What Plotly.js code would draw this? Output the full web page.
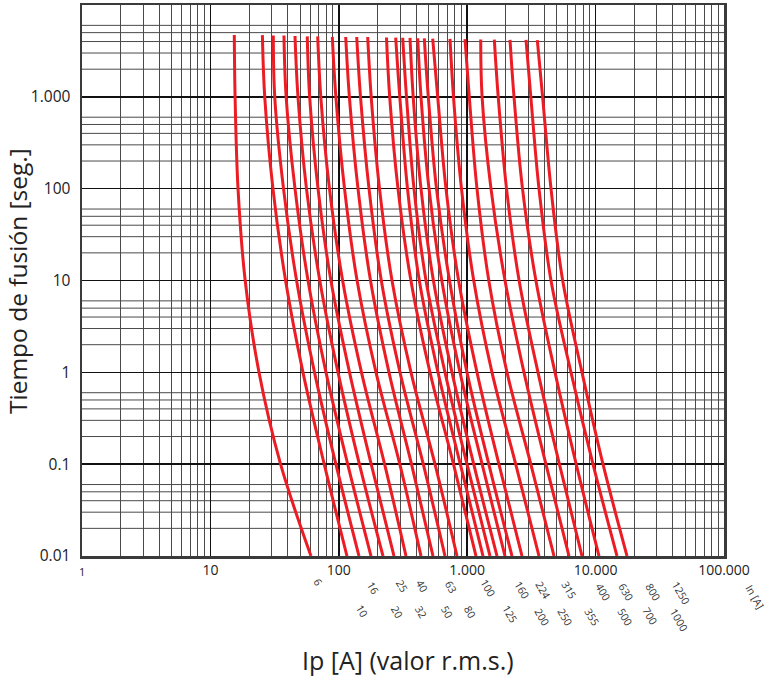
<!DOCTYPE html>
<html><head><meta charset="utf-8">
<script src="https://cdn.plot.ly/plotly-3.0.1.min.js"></script>
<style>html,body{margin:0;padding:0;background:#fff}#chart{width:766px;height:679px}</style>
</head><body><div id="chart"></div>
<script>
// Fuse ratings (In, A), left to right
const ratings = ['6','10','16','20','25','32','40','50','63','80','100','125','160','200','224','250','315','355','400','500','630','700','800','1000','1250'];
// Melting time of the first point of each curve (s)
const tTop = [4700,4700,4650,4650,4600,4550,4550,4500,4480,4480,4480,4420,4420,4400,4380,4350,4330,4300,4270,4250,4220,4200,4180,4160,4150];
// Melting times of the remaining points (s)
const times = [1000, 100, 10, 1, 0.1, 0.01];
// Prospective current Ip (A) for each curve: [at tTop, then at each of `times`]
const I_6    = [15.35, 15.57, 16.41, 18.66, 23.9, 35.2, 60.7];
const I_10   = [25.4, 26.5, 30.7, 38.5, 52.6, 77.0, 115.8];
const I_16   = [30.9, 31.7, 37.1, 46.9, 64.7, 94.9, 143.6];
const I_20   = [37.4, 38.9, 45.6, 57.6, 79.5, 117.3, 178.1];
const I_25   = [45.6, 48.1, 56.0, 71.1, 98.6, 144.7, 220.9];
const I_32   = [56.8, 59.3, 68.9, 86.8, 121.2, 178.8, 269.1];
const I_40   = [68.5, 72.4, 84.6, 107.1, 150.2, 227.3, 333.7];
const I_50   = [89.0, 94.9, 110.8, 138.8, 194.9, 298.6, 436.7];
const I_63   = [113.2, 120.9, 141.1, 176.6, 246.0, 368.3, 541.6];
const I_80   = [137.9, 147.6, 171.9, 214.3, 299.7, 455.1, 671.6];
const I_100  = [167.9, 178.8, 207.5, 259.6, 365.0, 561.3, 832.9];
const I_125  = [235.2, 249.1, 289.1, 364.4, 513.2, 782.2, 1171];
const I_160  = [277.4, 298.6, 342.8, 423.6, 592.4, 883.5, 1328];
const I_200  = [314.6, 336.7, 385.2, 477.7, 671.6, 996.5, 1505];
const I_224  = [358.5, 379.7, 436.7, 545.5, 761.4, 1124, 1707];
const I_250  = [411.6, 436.7, 504.1, 634.2, 878.9, 1306, 1970];
const I_315  = [463.3, 497.8, 576.6, 728.0, 996.5, 1473, 2233];
const I_355  = [538.7, 589.2, 683.8, 857.1, 1192, 1766, 2672];
const I_400  = [734.6, 782.2, 902.7, 1124, 1560, 2386, 3624];
const I_500  = [961.3, 1038, 1192, 1473, 2042, 3129, 4743];
const I_630  = [1274, 1306, 1532, 1970, 2769, 4102, 6207];
const I_700  = [1626, 1744, 2024, 2537, 3559, 5225, 7836];
const I_800  = [2155, 2315, 2696, 3428, 4828, 7061, 10628];
const I_1000 = [2871, 3129, 3624, 4494, 6433, 9545, 14677];
const I_1250 = [3515, 3866, 4494, 5543, 7836, 11419, 17562];
const currents = [I_6,I_10,I_16,I_20,I_25,I_32,I_40,I_50,I_63,I_80,I_100,I_125,I_160,I_200,I_224,I_250,I_315,I_355,I_400,I_500,I_630,I_700,I_800,I_1000,I_1250];

// Axis tick labels
const xTickVals = [10, 100, 1000, 10000, 100000];
const xTickText = ['10', '100', '1.000', '10.000', '100.000'];
const yTickVals = [0.01, 0.1, 1, 10, 100, 1000];
const yTickText = ['0.01', '0.1', '1', '10', '100', '1.000'];
// Horizontal minor gridline values (2..6 in every decade)
const yMinorVals = [];
[0.01, 0.1, 1, 10, 100, 1000].forEach(d => [2,3,4,5,6].forEach(m => yMinorVals.push(d*m)));

// Layout: rating label positions (pixel coords in the 766x679 page)
const labelPix = {
  '6':[318,582],'16':[373,588],'25':[402,586],'40':[422,586],'63':[451,587],'100':[488,588],'160':[522,590],
  '224':[543,590],'315':[569,590],'400':[603,592],'630':[626,592],'800':[653,592],'1250':[681,593],
  '10':[362,611],'20':[397,612],'32':[421,612],'50':[447,612],'80':[470,612],'125':[510,614],'200':[542,617],
  '250':[565,617],'355':[592,617],'500':[625,617],'700':[650,616],'1000':[679,620]
};
const L = 82, R = 724, T = 5, B = 556;
const px = x => (x - L) / (R - L);
const py = y => (B - y) / (B - T);

const traces = currents.map((arr, i) => ({
  type: 'scatter', mode: 'lines',
  x: arr, y: [tTop[i]].concat(times),
  line: {color: '#ec1c24', width: 3, shape: 'spline', smoothing: 1},
  hoverinfo: 'skip', showlegend: false
}));

const font = 'Open Sans, Noto Sans, DejaVu Sans, sans-serif';
const annotations = ratings.map(r => ({
  text: r, xref: 'paper', yref: 'paper', x: px(labelPix[r][0]), y: py(labelPix[r][1]),
  xanchor: 'center', yanchor: 'middle', showarrow: false, textangle: 60,
  font: {family: font, size: 10.5, color: '#333'}
}));
annotations.push({text: 'In [A]', xref: 'paper', yref: 'paper', x: px(755), y: py(597),
  xanchor: 'center', yanchor: 'middle', showarrow: false, textangle: 60, font: {family: font, size: 10.5, color: '#333'}});
annotations.push({text: '1', xref: 'paper', yref: 'paper', x: px(82), y: py(571),
  xanchor: 'center', yanchor: 'middle', showarrow: false, font: {family: font, size: 11, color: '#222'}});
annotations.push({text: 'Ip [A] (valor r.m.s.)', xref: 'paper', yref: 'paper', x: px(408), y: py(660),
  xanchor: 'center', yanchor: 'middle', showarrow: false, borderpad: 0, font: {family: font, size: 25, color: '#222'}});
annotations.push({text: 'Tiempo de fusión [seg.]', xref: 'paper', yref: 'paper', x: px(17), y: py(281),
  xanchor: 'center', yanchor: 'middle', showarrow: false, borderpad: 0, textangle: -90, font: {family: font, size: 24.5, color: '#222'}});

const shapes = yMinorVals.map(v => ({
  type: 'line', xref: 'paper', yref: 'y', x0: 0, x1: 1, y0: v, y1: v,
  layer: 'below', line: {color: '#4a4a4a', width: 1}
}));

const layout = {
  width: 766, height: 679,
  margin: {l: L, r: 766 - R, t: T, b: 679 - B},
  paper_bgcolor: '#fff', plot_bgcolor: '#fff',
  xaxis: {
    type: 'log', range: [0, 5], tickmode: 'array', tickvals: xTickVals, ticktext: xTickText,
    showgrid: true, gridcolor: '#111', gridwidth: 1.6, zeroline: false,
    showline: true, mirror: true, linecolor: '#3a3a3a', linewidth: 2.5,
    ticks: '', ticklabelstandoff: 0,
    tickfont: {family: font, size: 14, color: '#222'},
    minor: {dtick: 'D1', showgrid: true, gridcolor: '#4a4a4a', gridwidth: 1, ticks: ''}
  },
  yaxis: {
    type: 'log', range: [-2, 4], tickmode: 'array', tickvals: yTickVals, ticktext: yTickText,
    showgrid: true, gridcolor: '#111', gridwidth: 1.6, zeroline: false,
    showline: true, mirror: true, linecolor: '#3a3a3a', linewidth: 2.5,
    ticks: '', ticklabelstandoff: 6,
    tickfont: {family: font, size: 15.5, color: '#222'}
  },
  shapes: shapes,
  annotations: annotations
};
Plotly.newPlot('chart', traces, layout, {staticPlot: true, displayModeBar: false});
</script></body></html>
